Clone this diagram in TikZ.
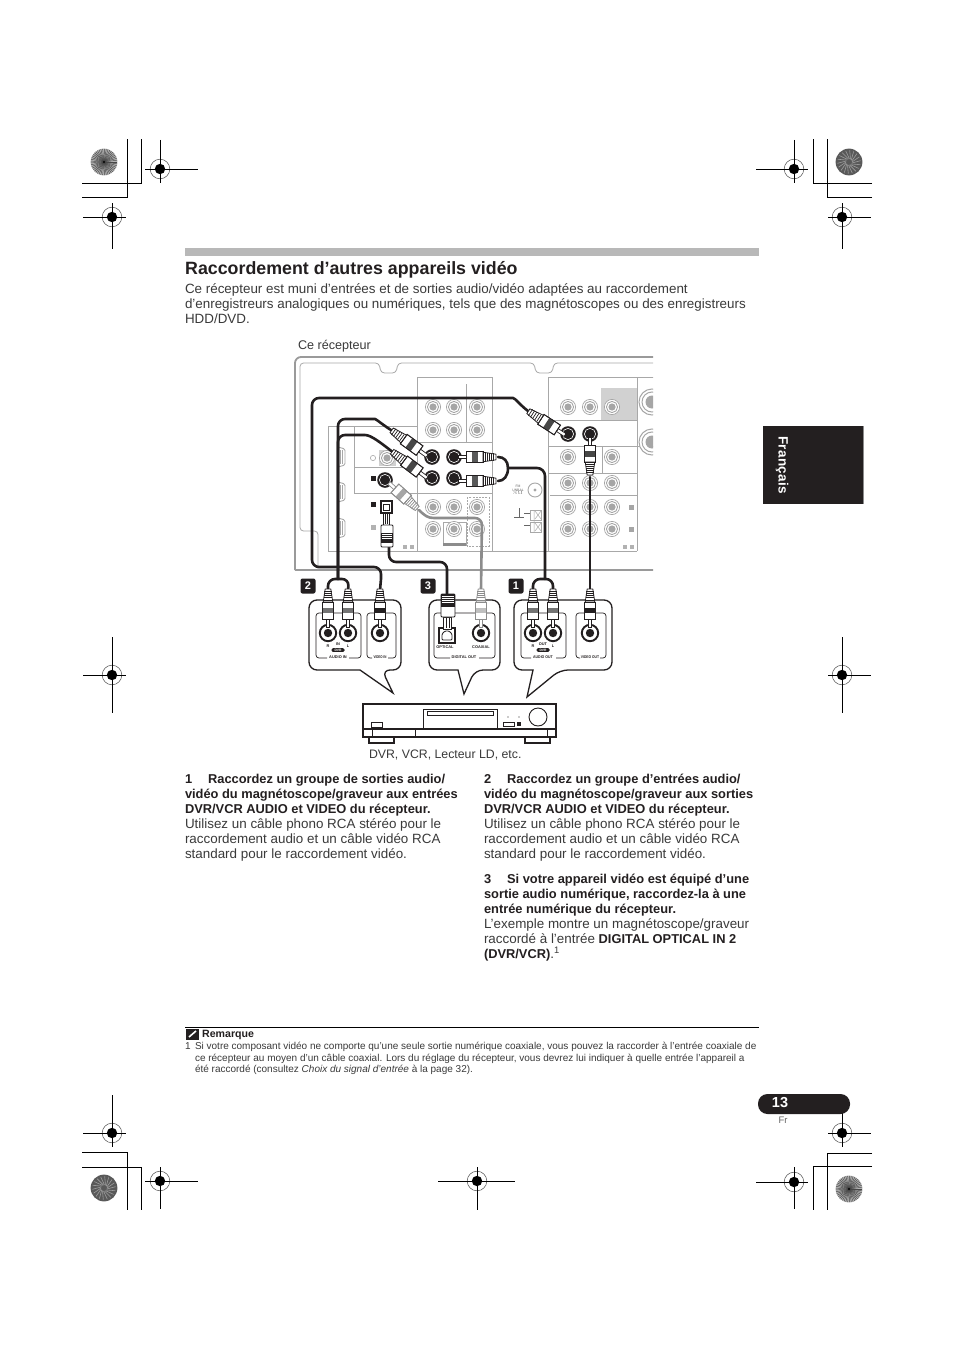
\documentclass[tikz,border=0pt]{standalone}
\usepackage{fontspec}
\setmainfont{Liberation Sans}
\definecolor{ink}{HTML}{231F20}
\definecolor{body}{HTML}{3A3A3A}
\definecolor{panel}{HTML}{A8A8A8}
\definecolor{frame}{HTML}{9A9A9A}
\definecolor{jackgrey}{HTML}{A6A6A6}
\definecolor{coax}{HTML}{8C8C8C}
\definecolor{barg}{HTML}{B8B8B8}
\tikzset{
  txt/.style={anchor=north west,inner sep=0pt,outer sep=0pt,align=left,text=body,font=\fontsize{13.4}{14.85}\selectfont},
  btxt/.style={txt,text=ink,font=\fontsize{12.85}{14.85}\selectfont\bfseries},
  foot/.style={txt,font=\fontsize{10}{11.5}\selectfont},
  crop/.style={line width=1pt,black},
  panelline/.style={line width=.8pt,panel},
  cable/.style={line width=2.6pt,ink,line cap=round},
  greycable/.style={line width=2.6pt,coax,line cap=round},
  bubble/.style={draw=ink,line width=1.3pt,fill=white},
  grp/.style={draw=ink,line width=.7pt,rounded corners=3pt},
  tiny/.style={inner sep=0pt,text=ink,font=\fontsize{3.9}{4}\selectfont\bfseries},
  dev/.style={draw=ink,line width=1.1pt},
  badge/.style={fill=ink,rounded corners=2pt,minimum width=15pt,minimum height=15pt,inner sep=0pt,text=white,font=\fontsize{11}{11}\selectfont\bfseries},
}
\newcommand\regmark[6]{% x y left right up down
  \draw[line width=.55pt,black!65] (#1,#2) circle[radius=9.8pt];
  \fill[black] (#1,#2) circle[radius=5.2pt];
  \draw[crop,line width=.9pt] (#1-#3,#2) -- (#1+#4,#2) (#1,#2-#5) -- (#1,#2+#6);
}
\newcommand\burst[2]{%
  \fill[black!30] (#1,#2) circle[radius=13.4pt];
  \foreach \a in {0,8,...,352} {\draw[black!72,line width=.45pt] (#1,#2) -- ++(\a:13.2pt);}
  \fill[black] (#1,#2) circle[radius=1.2pt];
}
\newcommand\mottle[2]{%
  \fill[black!65] (#1,#2) circle[radius=13.4pt];
  \foreach \a in {0,20,...,340} {\draw[black!38,line width=.6pt] (#1,#2) ++(\a:3pt) -- ++(\a+35:9pt);}
}
\newcommand\gjack[2]{%
  \draw[jackgrey,line width=.7pt,fill=white] (#1,#2) circle[radius=7.6pt];
  \draw[jackgrey,line width=.9pt] (#1,#2) circle[radius=5.6pt];
  \fill[jackgrey] (#1,#2) circle[radius=3.6pt];
}
\newcommand\bjack[2]{%
  \fill[ink] (#1,#2) circle[radius=7.8pt];
  \draw[white,line width=.6pt] (#1,#2) circle[radius=5.6pt];
}
\newcommand\rjack[2]{%
  \draw[ink,line width=1.9pt,fill=white] (#1,#2) circle[radius=8.2pt];
  \fill[ink] (#1,#2) circle[radius=4.2pt];
}
% plug: tip at (#2,#3), cable leaving in direction #4, body outline #5, band colour #6, length factor #1
\newcommand\rca[6][1]{%
  \begin{scope}[shift={(#2,#3)},rotate=#4,xscale=#1]
    \draw[#5,line width=.7pt,fill=white] (0,-1.7) rectangle (8,1.7);
    \draw[#5,line width=.8pt,fill=white] (8,-5.8) rectangle (25,5.8);
    \fill[#6] (14,-5.8) rectangle (19.5,5.8);
    \draw[#5,line width=.8pt,fill=white] (25,-4.8) -- (38,-2.8) -- (38,2.8) -- (25,4.8) -- cycle;
    \foreach \s in {27,29.2,31.4,33.6,35.8} {\draw[#5,line width=.7pt] (\s,-3.9) -- (\s,3.9);}
    \draw[#5,line width=.8pt] (8,-5.8) rectangle (25,5.8);
  \end{scope}
}
\begin{document}
\begin{tikzpicture}[x=1pt,y=-1pt]
\useasboundingbox (0,0) rectangle (954,1351);
\fill[white] (0,0) rectangle (954,1351);

%% crop marks
\draw[crop] (82,198) -- (127,198) -- (127,139) (82,184) -- (141,184) -- (141,139);
\draw[crop] (872,184) -- (813,184) -- (813,139) (872,198) -- (827,198) -- (827,139);
\draw[crop] (82,1152) -- (127,1152) -- (127,1210) (82,1167) -- (141,1167) -- (141,1210);
\draw[crop] (872,1153) -- (827,1153) -- (827,1210) (872,1166) -- (813,1166) -- (813,1210);
\burst{104}{162}
\mottle{849}{162}
\mottle{104}{1188}
\burst{849}{1189}
\regmark{160}{169}{15}{38}{29}{14}
\regmark{794}{169}{38}{14}{29}{14}
\regmark{112}{217}{29}{14}{14}{32}
\regmark{842}{217}{14}{29}{14}{32}
\regmark{112}{675}{29}{14}{38}{38}
\regmark{842}{675}{14}{29}{38}{38}
\regmark{112}{1133}{29}{14}{38}{14}
\regmark{842}{1133}{14}{29}{20}{14}
\regmark{160}{1181}{15}{38}{14}{28}
\regmark{477}{1181}{39}{38}{14}{29}
\regmark{794}{1182}{38}{14}{15}{27}

%% heading
\fill[barg] (185,248) rectangle (759,256);
\node[anchor=base west,inner sep=0pt,text=ink,font=\fontsize{17.8}{20}\selectfont\bfseries] (title) at (185,274) {Raccordement d’autres appareils vidéo};
\node[txt] (intro) at (185,283.7) {Ce récepteur est muni d’entrées et de sorties audio/vidéo adaptées au raccordement\\d’enregistreurs analogiques ou numériques, tels que des magnétoscopes ou des enregistreurs\\HDD/DVD.};
\node[txt,font=\fontsize{12.6}{14}\selectfont] (cerec) at (298,340) {Ce récepteur};

%% receiver panel
\begin{scope}
\clip (290,350) rectangle (653,575);
\draw[frame,line width=1.8pt,rounded corners=6pt] (660,357) -- (295,357) -- (295,570);
\draw[frame,line width=1.8pt] (295,570) -- (660,570);
\draw[panel,line width=.8pt,rounded corners=3.5pt] (660,363) -- (554,363) -- (552,373) -- (536,373) -- (534,363) -- (398,363) -- (396,373) -- (381,373) -- (379,363) -- (300,363) -- (300,531) -- (318,531) -- (318,570);
\fill[black!18] (601,388) rectangle (637,420);
\fill[black!18] (379,450) rectangle (396,466);
\draw[panelline] (417,377) -- (492,377) -- (492,551);
\draw[panelline] (417,377) -- (417,551);
\draw[panelline] (328,426) -- (417,426) (328,426) -- (328,551) -- (637,551);
\draw[panelline] (354,426) -- (354,493) (354,467) -- (417,467) (354,493) -- (417,493);
\draw[panelline] (466,384) -- (466,442) (417,442) -- (492,442) (417,493) -- (492,493);
\draw[panelline] (548,551) -- (548,377) -- (660,377) (637,377) -- (637,551);
\draw[panelline] (548,420) -- (637,420) (548,446) -- (660,446) (548,473) -- (637,473) (550,495) -- (637,495);
\draw[panelline] (602,446) -- (602,473);
\draw[panelline,dashed,dash pattern=on 2pt off 1.2pt] (467,497) rectangle (489,546);
\draw[panelline] (443,546) -- (443,522) -- (466,522) -- (466,546);
\fill[black!45] (443,543) rectangle (466,546);
\foreach \y in {457,492,528} {
  \draw[panel,line width=.9pt,rounded corners=1.5pt] (338,\y-10) -- (345,\y-8) -- (345,\y+8) -- (338,\y+10) -- cycle;
  \draw[panel,line width=.5pt] (340,\y-7) -- (340,\y+7) (342,\y-7) -- (342,\y+7);
}
\foreach \x in {433,454,477} {\foreach \y in {407,430,507,529} {\gjack{\x}{\y}}}
\foreach \x in {568,590,612} {\foreach \y in {483,507,529} {\gjack{\x}{\y}}}
\foreach \x in {568,590,612} {\gjack{\x}{407}}
\gjack{568}{457}\gjack{612}{457}
\gjack{387}{458}
\foreach \y in {402,442} {
  \draw[jackgrey,line width=1pt,fill=white] (652,\y) circle[radius=13pt];
  \draw[jackgrey,line width=1pt] (652,\y) circle[radius=10pt];
  \fill[jackgrey] (652,\y) circle[radius=6.5pt];
}
\draw[panel,line width=.6pt] (373,458) circle[radius=2.6pt];
\fill[ink] (371,476) rectangle (376,481);
\fill[ink] (371,502) rectangle (376,507);
\fill[black!30] (371,525) rectangle (376,530);
\foreach \p in {(631,507),(631,529)} {\fill[black!35] \p ++(-2.5,-2.5) rectangle ++(5,5);}
\foreach \p in {(405,547),(412,547),(625,547),(632,547)} {\fill[black!30] \p ++(-2,-2) rectangle ++(4,4);}
\draw[panel,line width=.9pt] (535,490) circle[radius=7pt];
\fill[jackgrey] (535,490) circle[radius=1.7pt];
\node[inner sep=0pt,align=center,text=black!60,font=\fontsize{3.4}{3.7}\selectfont] (fm) at (518,490) {FM\\UNBAL\\75 $\Omega$};
\draw[black!60,line width=.5pt] (519,508) -- (519,518) (514,517) -- (524,517) (524,513) -- (530,513) (524,525) -- (530,525);
\draw[panel,line width=.8pt] (530,510) rectangle (541,520) (530,522) rectangle (541,532);
\draw[panel,line width=.5pt] (534,510) -- (534,532) (535,511) -- (541,519) (541,511) -- (535,519) (535,523) -- (541,531) (541,523) -- (535,531);
\bjack{432}{457}\bjack{432}{478}\bjack{454}{457}\bjack{454}{478}
\bjack{568}{434}\bjack{590}{434}
\bjack{385}{480}
\draw[ink,line width=1.1pt,fill=white] (381,501) rectangle (392,513);
\draw[ink,line width=.7pt] (383.5,504) rectangle (389.5,510);
\end{scope}

%% callouts
\draw[bubble] (360,670) [rounded corners=8pt] -- (309,670) -- (309,600) -- (401,600) -- (401,670) -- (382,670) [sharp corners] -- (393,693) -- cycle;
\draw[bubble] (458,670) [rounded corners=8pt] -- (429,670) -- (429,600) -- (500,600) -- (500,670) -- (475,670) [sharp corners] -- (464,694) -- cycle;
\draw[bubble] (533,670) [rounded corners=8pt] -- (514,670) -- (514,600) -- (612,600) -- (612,670) -- (560,670) [sharp corners] -- (527,697) -- cycle;

\path[grp] (327,658) -- (316,658) -- (316,613) -- (361,613) -- (361,658) -- (349,658);
\path[grp] (372,658) -- (367,658) -- (367,613) -- (396,613) -- (396,658) -- (388,658);
\path[grp] (450,658) -- (434,658) -- (434,613) -- (495,613) -- (495,658) -- (479,658);
\path[grp] (531,658) -- (521,658) -- (521,613) -- (566,613) -- (566,658) -- (556,658);
\path[grp] (580,658) -- (576,658) -- (576,613) -- (606,613) -- (606,658) -- (600,658);

\rjack{328}{633}\rjack{348}{633}\rjack{380}{633}
\rjack{481}{633}
\rjack{533}{633}\rjack{553}{633}\rjack{590}{633}
\draw[ink,line width=1.6pt,fill=white] (439,628) rectangle (455,643);
\draw[ink,line width=.8pt,rounded corners=1pt] (442,640) -- (442,634) -- (445,631) -- (449,631) -- (452,634) -- (452,640) -- cycle;

\node[tiny] (l1) at (328,646) {R};
\node[tiny] (l2) at (338,644) {IN};
\node[tiny] (l3) at (348,646) {L};
\node[fill=ink,rounded corners=1.4pt,inner sep=.5pt,minimum width=13pt,minimum height=3.8pt,text=white,font=\fontsize{3.3}{3.3}\selectfont\bfseries] (l4) at (338,650) {DVR};
\node[tiny] (l5) at (338,657.5) {AUDIO IN};
\node[tiny,xscale=.75] (l6) at (380,657.5) {VIDEO IN};
\node[tiny] (l7) at (445,647.5) {OPTICAL};
\node[tiny] (l8) at (481,647.5) {COAXIAL};
\node[tiny] (l9) at (464,657.5) {DIGITAL OUT};
\node[tiny] (l10) at (533,646) {R};
\node[tiny] (l11) at (543,644) {OUT};
\node[tiny] (l12) at (553,646) {L};
\node[fill=ink,rounded corners=1.4pt,inner sep=.5pt,minimum width=13pt,minimum height=3.8pt,text=white,font=\fontsize{3.3}{3.3}\selectfont\bfseries] (l13) at (543,650) {DVR};
\node[tiny,xscale=.9] (l14) at (543,657.5) {AUDIO OUT};
\node[tiny,xscale=.85] (l15) at (590,657.5) {VIDEO OUT};

\node[badge] (n2) at (308,586) {2};
\node[badge] (n3) at (428,586) {3};
\node[badge] (n1) at (516,586) {1};

%% plug anchor points
\coordinate (recA) at (391,430);
\coordinate (recB) at (392,451.5);
\coordinate (recV) at (528,411);
\coordinate (recO1) at (498,457);
\coordinate (recO2) at (498,481);
\coordinate (recVo) at (590,477);
\coordinate (recC) at (419,510);
\coordinate (recD) at (389,547);
\coordinate (bR) at (328,590);
\coordinate (bL) at (348,590);
\coordinate (bV) at (380,590);
\coordinate (bD) at (447,594);
\coordinate (bC) at (481,590);
\coordinate (oR) at (533,590);
\coordinate (oL) at (553,590);
\coordinate (oV) at (590,590);

%% cables
\draw[cable] (bV) -- (381,579) [rounded corners=7pt] -- (381,567) -- (312,567) -- (312,398) -- (506,398) [sharp corners] .. controls (515,398) and (520,405) .. (recV);
\draw[cable] (338,579) [rounded corners=7pt] -- (338,419) -- (368,419) [sharp corners] .. controls (376,419) and (383,425) .. (recA);
\draw[cable] (338,579) [rounded corners=7pt] -- (338,435) -- (358,435) [sharp corners] .. controls (371,435) and (381,443) .. (recB);
\draw[cable,rounded corners=7pt] (bR) -- (328,579) -- (349,579) -- (bL);
\draw[cable] (recO1) .. controls (504,457) and (508,461) .. (508,468) .. controls (508,476) and (504,481) .. (recO2);
\draw[cable,rounded corners=8pt] (508,468) -- (545,468) -- (545,579);
\draw[cable,rounded corners=7pt] (oR) -- (533,579) -- (553,579) -- (oL);
\draw[cable] (recVo) -- (oV);
\draw[greycable] (recC) .. controls (425,516) and (428,518) .. (434,518) [rounded corners=7pt] -- (482,518) -- (bC);
\draw[cable,rounded corners=7pt] (recD) -- (389,562) -- (447,562) -- (bD);

%% plugs on the receiver
\rca[1.15]{427}{456}{144}{ink}{black!72}
\rca[1.15]{427}{478}{143}{ink}{black!72}
\rca[1.15]{565}{435}{147}{ink}{black!72}
\rca{458}{457}{0}{ink}{black!65}
\rca{458}{481}{0}{ink}{black!65}
\rca{590}{437}{-90}{ink}{black!72}
\rca{389}{483}{-42}{coax}{black!35}
% optical plug on the receiver
\draw[ink,line width=.8pt,fill=white] (383,513) rectangle (389,525);
\draw[ink,line width=.5pt] (385,514) -- (385,524) (387,514) -- (387,524);
\draw[ink,line width=.9pt,fill=white,rounded corners=1pt] (381,525) rectangle (393,547);
\fill[ink] (381,533) rectangle (393,543);
\foreach \s in {534,536,538} {\draw[white,line width=.4pt] (382,\s) -- (392,\s);}

%% plugs in the callouts
\foreach \x in {328,348} {\rca{\x}{627}{90}{ink}{black!55}}
\rca{380}{627}{90}{ink}{ink}
\foreach \x in {533,553} {\rca{\x}{627}{90}{ink}{black!55}}
\rca{590}{627}{90}{ink}{ink}
\rca{481}{627}{90}{coax}{black!25}
% optical plug in the callout
\draw[ink,line width=.8pt,fill=white] (443.5,617) rectangle (451.5,629);
\draw[ink,line width=.5pt] (446,618) -- (446,628) (449,618) -- (449,628);
\draw[ink,line width=.9pt,fill=white,rounded corners=1pt] (441,594) rectangle (455,617);
\fill[ink] (441,594) rectangle (455,607);
\foreach \s in {596,598,600,602} {\draw[white,line width=.4pt] (442,\s) -- (454,\s);}

%% recorder
\draw[dev,fill=white] (369,737) rectangle (394,743);
\draw[dev,fill=white] (525,737) rectangle (550,743);
\draw[dev,fill=white] (363,704) rectangle (556,737);
\draw[dev] (363,729) -- (556,729);
\draw[dev,line width=.9pt] (372,729) -- (372,737) (415,729) -- (415,737) (547,729) -- (547,737);
\draw[dev,line width=1pt] (423,709) rectangle (497,728);
\draw[dev,line width=.8pt] (427,711) rectangle (493,715);
\draw[dev,line width=.9pt] (371,722) rectangle (382,727);
\draw[dev,line width=.9pt] (503,722) rectangle (514,726);
\fill[ink] (517,722) rectangle (521,726);
\draw[dev,line width=.9pt] (538,717) circle[radius=9pt];
\fill[ink] (508,717) circle[radius=.7pt] (519,717) circle[radius=.7pt];
\node[txt,font=\fontsize{12.3}{14}\selectfont] (dvr) at (369,750) {DVR, VCR, Lecteur LD, etc.};

%% steps
\node[btxt] (s1) at (185,774) {1\hspace{1.24em}Raccordez un groupe de sorties audio/\\vidéo du magnétoscope/graveur aux entrées\\DVR/VCR AUDIO et VIDEO du récepteur.};
\node[txt] (s1b) at (185,819) {Utilisez un câble phono RCA stéréo pour le\\raccordement audio et un câble vidéo RCA\\standard pour le raccordement vidéo.};
\node[btxt] (s2) at (484,774) {2\hspace{1.24em}Raccordez un groupe d’entrées audio/\\vidéo du magnétoscope/graveur aux sorties\\DVR/VCR AUDIO et VIDEO du récepteur.};
\node[txt] (s2b) at (484,819) {Utilisez un câble phono RCA stéréo pour le\\raccordement audio et un câble vidéo RCA\\standard pour le raccordement vidéo.};
\node[btxt] (s3) at (484,874) {3\hspace{1.24em}Si votre appareil vidéo est équipé d’une\\sortie audio numérique, raccordez-la à une\\entrée numérique du récepteur.};
\node[txt] (s3b) at (484,919) {L’exemple montre un magnétoscope/graveur\\raccordé à l’entrée {\fontsize{12.85}{14.85}\selectfont\bfseries\color{ink}DIGITAL OPTICAL IN 2}\\{\fontsize{12.85}{14.85}\selectfont\bfseries\color{ink}(DVR/VCR)}.\textsuperscript{1}};

%% note
\draw[black,line width=1pt] (185,1027) -- (759,1027);
\fill[ink] (186,1028.5) rectangle (199,1040);
\draw[white,line width=1.6pt] (189,1037) -- (196,1031);
\node[anchor=base west,inner sep=0pt,text=ink,font=\fontsize{10.6}{11}\selectfont\bfseries] (rem) at (202,1037) {Remarque};
\node[foot] (fn1) at (185,1042.5) {1};
\node[foot] (fn) at (195,1042.5) {Si votre composant vidéo ne comporte qu’une seule sortie numérique coaxiale, vous pouvez la raccorder à l’entrée coaxiale de\\ce récepteur au moyen d’un câble coaxial. Lors du réglage du récepteur, vous devrez lui indiquer à quelle entrée l’appareil a\\été raccordé (consultez \textit{Choix du signal d’entrée} à la page 32).};

%% language tab and folio
\fill[ink] (763,426) rectangle (863,504);
\draw[black!45,line width=.8pt] (863.5,426) -- (863.5,504);
\node[rotate=-90,inner sep=0pt,text=white,font=\fontsize{13.5}{14}\selectfont\bfseries\addfontfeature{LetterSpace=2}] (lang) at (782,465) {Français};
\fill[ink,rounded corners=9.5pt] (758,1094) rectangle (850,1114);
\node[inner sep=0pt,text=white,font=\fontsize{14.5}{15}\selectfont\bfseries] (folio) at (780,1103) {13};
\node[inner sep=0pt,text=black!60,font=\fontsize{9.5}{10}\selectfont] (fr) at (783,1120) {Fr};
\end{tikzpicture}
\end{document}
